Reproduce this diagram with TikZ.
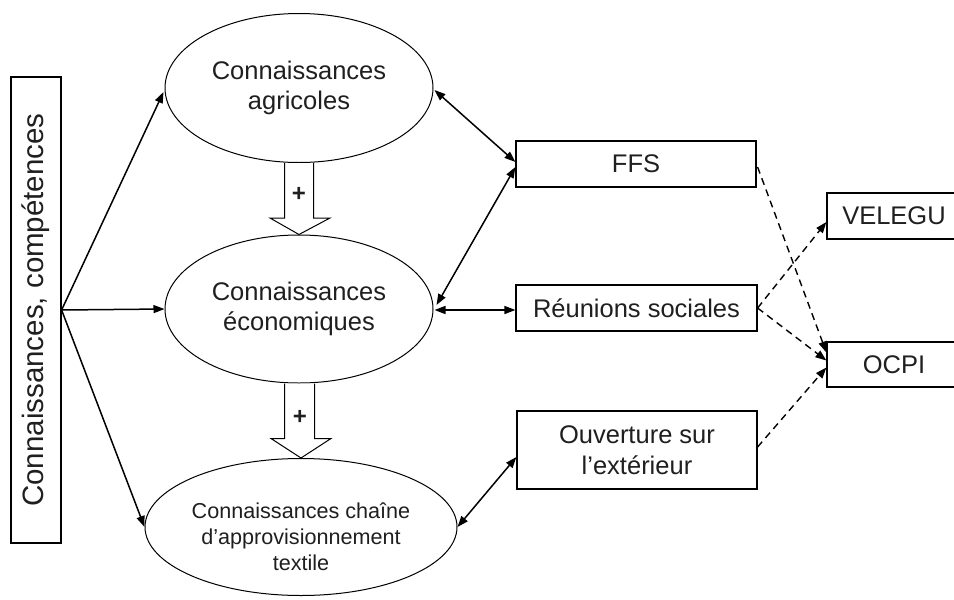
\documentclass[tikz,border=0pt]{standalone}
\usepackage{fontspec}
\setmainfont{Liberation Sans}
\usetikzlibrary{shapes.geometric,arrows.meta,calc}
\begin{document}
\begin{tikzpicture}[x=1pt,y=-1pt,
  every node/.style={text=black!88},
  ell/.style={ellipse,draw,line width=1pt,inner sep=0pt,align=center},
  box/.style={rectangle,draw,line width=1.2pt,inner sep=0pt,align=center},
  txt/.style={font=\fontsize{25.5}{30}\selectfont},
  conn/.style={line width=1.5pt,-{Triangle[length=11pt,width=8pt]}},
  dconn/.style={line width=1.5pt,{Triangle[length=11pt,width=8pt]}-{Triangle[length=11pt,width=8pt]}},
  dashlink/.style={line width=1.4pt,dash pattern=on 7pt off 5pt,-{Triangle[length=11pt,width=8pt]}},
  blk/.style={draw,line width=1pt,fill=white,line join=miter},
  plus/.style={font=\fontsize{24}{24}\selectfont\bfseries,inner sep=0pt}]
\useasboundingbox (0,0) rectangle (954,600);
\clip (0,0) rectangle (954,600);

% source box, vertical label
\node[box,rotate=90,minimum width=466pt,minimum height=50pt,
      font=\fontsize{29.5}{34}\selectfont] (src) at (36,310) {Connaissances, compétences};

% knowledge ellipses
\node[ell,txt,minimum width=268pt,minimum height=149pt] (agri) at (299,88) {Connaissances\\agricoles};
\node[ell,txt,minimum width=268pt,minimum height=148pt] (eco) at (299,309) {Connaissances\\économiques};
% text of the lower ellipse sits a little below its centre
\node[ell,minimum width=312pt,minimum height=137pt,
      font=\fontsize{21.6}{26}\selectfont] (prov) at (301,527)
  {\raisebox{-17pt}[39pt][39pt]{\begin{tabular}{@{}c@{}}Connaissances chaîne\\d’approvisionnement\\textile\end{tabular}}};

% channel boxes
\node[box,txt,minimum width=240pt,minimum height=46pt] (ffs) at (636,164) {FFS};
\node[box,txt,minimum width=241pt,minimum height=46pt] (reun) at (636.5,308) {Réunions sociales};
\node[box,font=\fontsize{25.5}{31}\selectfont,minimum width=240pt,minimum height=78pt] (ouv) at (637,450) {Ouverture sur\\l’extérieur};

% organisations
\node[box,txt,minimum width=134pt,minimum height=46pt] (vel) at (894,216) {VELEGU};
\node[box,txt,minimum width=134pt,minimum height=45pt] (ocpi) at (894,364.5) {OCPI};

% arrows from the source box
\draw[conn] (src.south) -- ($(agri.west)+(-1,4)$);
\draw[conn] (src.south) -- (eco.west);
\draw[conn] (src.south) -- (prov.west);

% block arrows between ellipses
\draw[blk] ($(agri.south)+(-14.5,0)$) -- ($(agri.south)+(-14.5,55)$) -- ($(agri.south)+(-29,55)$)
  -- (eco.north) -- ($(agri.south)+(31,55)$) -- ($(agri.south)+(14.5,55)$) -- ($(agri.south)+(14.5,0)$);
\draw[blk] ($(eco.south)+(-14.5,0)$) -- ($(eco.south)+(-14.5,55)$) -- ($(eco.south)+(-28,55)$)
  -- (prov.north) -- ($(eco.south)+(32,55)$) -- ($(eco.south)+(15.5,55)$) -- ($(eco.south)+(15.5,0)$);
\node[plus] (p1) at (299,194) {+};
\node[plus] (p2) at (300,417) {+};

% two-way links with the channels
\draw[dconn] ($(ffs.west)+(0,-2)$) -- ($(agri.east)+(1,2)$);
\draw[dconn] ($(ffs.west)+(0,3)$) -- ($(eco.east)+(3,-4)$);
\draw[dconn] ($(reun.west)+(0,2)$) -- ($(eco.east)+(1,1)$);
\draw[dconn] ($(ouv.west)+(0,7)$) -- (prov.east);

% dashed links to the organisations
\draw[dashlink] ($(ffs.east)+(1,3)$) -- ($(ocpi.west)+(0,-12)$);
\draw[dashlink] (reun.east) -- ($(vel.west)+(0,6)$);
\draw[dashlink] (reun.east) -- ($(ocpi.west)+(0,-4)$);
\draw[dashlink] ($(ouv.east)+(0,-3)$) -- ($(ocpi.west)+(0,3)$);
\end{tikzpicture}
\end{document}
